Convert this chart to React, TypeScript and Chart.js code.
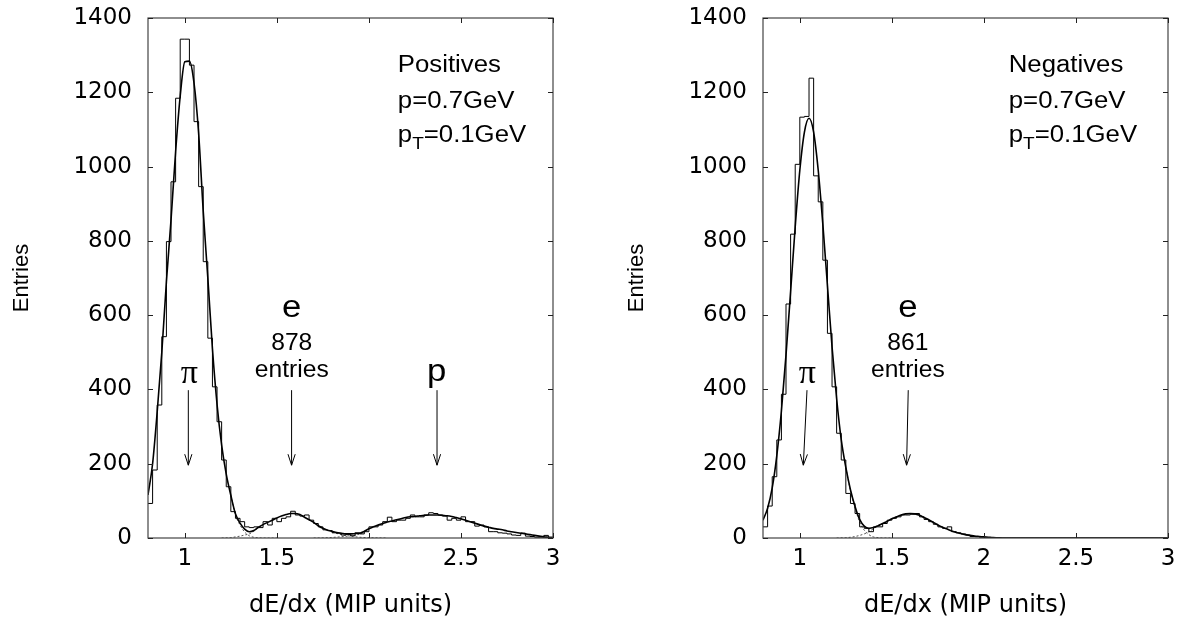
import React, { useEffect, useRef } from "react";
import { Chart, registerables } from "chart.js";

Chart.register(...registerables);

// ---------- data ----------
const BIN_START = 0.8;
const BIN_WIDTH = 0.025;
const X_MIN = 0.8;
const X_MAX = 3.0;
const Y_MIN = 0;
const Y_MAX = 1400;
const xTickValues = [1, 1.5, 2, 2.5, 3];
const yTickValues = [0, 200, 400, 600, 800, 1000, 1200, 1400];

// histogram bin contents (88 bins of 0.025 from 0.8 to 3.0)
const positivesHist = [
  93, 183, 358, 542, 798, 959, 1184, 1343, 1343, 1273,
  1121, 946, 744, 538, 407, 313, 210, 138, 71, 53,
  44, 30, 28, 30, 28, 44, 35, 53, 44, 53,
  57, 72, 62, 59, 62, 48, 39, 30, 22, 20,
  14, 13, 8, 10, 6, 14, 11, 17, 30, 30,
  35, 44, 56, 44, 48, 48, 53, 62, 57, 57,
  62, 68, 66, 62, 59, 48, 53, 48, 57, 44,
  44, 32, 35, 30, 17, 17, 14, 13, 11, 8,
  7, 13, 5, 4, 2, 0.5, 7, 2,
];
const negativesHist = [
  30, 86, 165, 264, 387, 630, 818, 1006, 1133, 1135,
  1238, 975, 905, 748, 551, 407, 282, 210, 120, 93,
  66, 30, 26, 17, 30, 30, 39, 48, 53, 57,
  62, 62, 64, 66, 57, 50, 44, 37, 30, 26,
  30, 17, 14, 11, 8, 4, 4, 2, 1, 0.5,
  0, 0, 0, 0, 0, 0, 0, 0, 0, 0,
  0, 0, 0, 0, 0, 0, 0, 0, 0, 0,
  0, 0, 0, 0, 0, 0, 0, 0, 0, 0,
  0, 0, 0, 0, 0, 0, 0, 0,
];

// total fit, read at 0.8, 0.825, ... 3.0 (89 points)
const positivesFit = [
  116, 200, 340, 500, 690, 856, 1040, 1190, 1282, 1284,
  1225, 1090, 880, 700, 510, 360, 250, 172, 115, 65,
  40, 24, 17, 20, 29, 36, 42, 48, 54, 59,
  63, 66, 66, 63, 56, 49, 42, 33, 26, 21,
  18, 15, 13, 11, 11, 12, 13, 18, 25, 30,
  35, 39, 43, 46, 49, 52, 55, 57, 58, 60,
  61, 62, 62, 62, 61, 60, 58, 55, 52, 48,
  44, 40, 36, 32, 29, 26, 24, 22, 19, 17,
  15, 13, 11, 9, 7, 5, 3, 2, 1,
];
const negativesFit = [
  48, 80, 135, 222, 342, 493, 664, 838, 990, 1093,
  1130, 1093, 990, 845, 680, 515, 375, 265, 190, 130,
  85, 50, 32, 26, 28, 33, 39, 45, 52, 57,
  62, 65, 66, 65, 61, 55, 49, 42, 35, 29,
  24, 19, 15, 12, 9, 7, 5, 4, 3, 2,
  1, 0.5, 0, 0, 0, 0, 0, 0, 0, 0,
  0, 0, 0, 0, 0, 0, 0, 0, 0, 0,
  0, 0, 0, 0, 0, 0, 0, 0, 0, 0,
  0, 0, 0, 0, 0, 0, 0, 0, 0,
];

// individual fit components (dotted), near the overlaps
const posPionTailX = [1.25, 1.275, 1.3, 1.325, 1.35, 1.375, 1.4, 1.425, 1.45, 1.5];
const posPionTail = [114, 62, 35, 16, 6, 2, 0.5, 0, 0, 0];
const posEHeadX = [1.2, 1.25, 1.275, 1.3, 1.325, 1.35, 1.375, 1.4, 1.425];
const posEHead = [0, 1, 3, 5, 8, 11, 18, 28, 35];
const posETailX = [1.8, 1.85, 1.9, 1.95, 2.0, 2.05, 2.1];
const posETail = [16, 9, 5, 2, 1, 0.3, 0];
const posPHeadX = [1.7, 1.75, 1.8, 1.85, 1.9, 1.95, 2.0];
const posPHead = [0, 0.5, 1.5, 3.5, 6, 11, 24];

const negPionTailX = [1.25, 1.275, 1.3, 1.325, 1.35, 1.375, 1.4, 1.425, 1.45, 1.5];
const negPionTail = [189, 128, 81, 43, 21, 9, 3, 1, 0, 0];
const negEHeadX = [1.2, 1.25, 1.275, 1.3, 1.325, 1.35, 1.375, 1.4, 1.425];
const negEHead = [0, 1, 2, 4, 7, 11, 17, 25, 32];

// ---------- helpers ----------
type Pt = { x: number; y: number };

function histPoints(values: number[]): Pt[] {
  const pts = values.map((v, k) => ({ x: BIN_START + k * BIN_WIDTH, y: v }));
  pts.push({ x: BIN_START + values.length * BIN_WIDTH, y: 0 });
  return pts;
}
function gridPoints(values: number[]): Pt[] {
  return values.map((v, k) => ({ x: BIN_START + k * BIN_WIDTH, y: v }));
}
function curvePoints(xs: number[], ys: number[]): Pt[] {
  return ys.map((y, i) => ({ x: xs[i], y }));
}

const SANS = '"Liberation Sans", Arial, sans-serif';
const SERIF = '"Liberation Serif", "Times New Roman", serif';
const TICK_FONT = "DejaVu Sans";

type Part = { t: string; size: number; dy?: number };

function drawParts(
  ctx: CanvasRenderingContext2D,
  parts: Part[],
  x: number,
  y: number,
  sx: number,
  align: "left" | "center",
  family = SANS
) {
  let total = 0;
  for (const p of parts) {
    ctx.font = `${p.size}px ${family}`;
    total += ctx.measureText(p.t).width * sx;
  }
  let cx = align === "center" ? x - total / 2 : x;
  for (const p of parts) {
    ctx.save();
    ctx.font = `${p.size}px ${family}`;
    ctx.textAlign = "left";
    ctx.textBaseline = "alphabetic";
    ctx.fillStyle = "#000";
    const w = ctx.measureText(p.t).width * sx;
    ctx.translate(cx, y + (p.dy || 0));
    ctx.scale(sx, 1);
    ctx.fillText(p.t, 0, 0);
    ctx.restore();
    cx += w;
  }
}

function drawArrow(ctx: CanvasRenderingContext2D, x1: number, y1: number, x2: number, y2: number) {
  ctx.save();
  ctx.strokeStyle = "#000";
  ctx.lineWidth = 1;
  ctx.beginPath();
  ctx.moveTo(x1, y1);
  ctx.lineTo(x2, y2);
  const ang = Math.atan2(y2 - y1, x2 - x1);
  const L = 11;
  const W = 3.6;
  const bx = x2 - L * Math.cos(ang);
  const by = y2 - L * Math.sin(ang);
  const nx = -Math.sin(ang);
  const ny = Math.cos(ang);
  ctx.moveTo(bx + nx * W, by + ny * W);
  ctx.lineTo(x2, y2);
  ctx.lineTo(bx - nx * W, by - ny * W);
  ctx.stroke();
  ctx.restore();
}

type Label = { parts: Part[]; x: number; y: number; align: "left" | "center"; sx: number; family?: string };
type Arrow = { x1: number; y1: number; x2: number; y2: number };

type Panel = {
  left: number;
  width: number;
  hist: number[];
  fit: number[];
  comps: Pt[][];
  labels: Label[];
  arrows: Arrow[];
};

const ARROW_TOP = 398;
const ARROW_TIP = 196;

function cornerLabels(title: string, x: number): Label[] {
  return [
    { parts: [{ t: title, size: 23 }], x, y: 1255, align: "left", sx: 1.12 },
    { parts: [{ t: "p=0.7GeV", size: 23 }], x, y: 1157, align: "left", sx: 1.12 },
    {
      parts: [
        { t: "p", size: 23 },
        { t: "T", size: 17, dy: 7 },
        { t: "=0.1GeV", size: 23 },
      ],
      x,
      y: 1067,
      align: "left",
      sx: 1.12,
    },
  ];
}

const positivesPanel: Panel = {
  left: 0,
  width: 615,
  hist: positivesHist,
  fit: positivesFit,
  comps: [
    curvePoints(posPionTailX, posPionTail),
    curvePoints(posEHeadX, posEHead),
    curvePoints(posETailX, posETail),
    curvePoints(posPHeadX, posPHead),
  ],
  labels: [
    ...cornerLabels("Positives", 2.157),
    { parts: [{ t: "π", size: 34 }], x: 1.024, y: 417, align: "center", sx: 1, family: SERIF },
    { parts: [{ t: "e", size: 31 }], x: 1.581, y: 595, align: "center", sx: 1.12 },
    { parts: [{ t: "878", size: 23 }], x: 1.581, y: 506, align: "center", sx: 1.07 },
    { parts: [{ t: "entries", size: 23 }], x: 1.581, y: 433, align: "center", sx: 1.07 },
    { parts: [{ t: "p", size: 31 }], x: 2.368, y: 422, align: "center", sx: 1.12 },
  ],
  arrows: [
    { x1: 1.019, y1: ARROW_TOP, x2: 1.019, y2: ARROW_TIP },
    { x1: 1.58, y1: ARROW_TOP, x2: 1.58, y2: ARROW_TIP },
    { x1: 2.37, y1: ARROW_TOP, x2: 2.37, y2: ARROW_TIP },
  ],
};

const negativesPanel: Panel = {
  left: 615,
  width: 569,
  hist: negativesHist,
  fit: negativesFit,
  comps: [curvePoints(negPionTailX, negPionTail), curvePoints(negEHeadX, negEHead)],
  labels: [
    ...cornerLabels("Negatives", 2.135),
    { parts: [{ t: "π", size: 34 }], x: 1.041, y: 417, align: "center", sx: 1, family: SERIF },
    { parts: [{ t: "e", size: 31 }], x: 1.587, y: 595, align: "center", sx: 1.12 },
    { parts: [{ t: "861", size: 23 }], x: 1.587, y: 506, align: "center", sx: 1.07 },
    { parts: [{ t: "entries", size: 23 }], x: 1.587, y: 433, align: "center", sx: 1.07 },
  ],
  arrows: [
    { x1: 1.039, y1: ARROW_TOP, x2: 1.019, y2: ARROW_TIP },
    { x1: 1.589, y1: ARROW_TOP, x2: 1.58, y2: ARROW_TIP },
  ],
};

const PLOT_LEFT = 148;
const PLOT_RIGHT = 553;
const PLOT_TOP = 18;
const PLOT_BOTTOM = 538;
const H = 622;

function PanelChart({ panel }: { panel: Panel }) {
  const ref = useRef<HTMLCanvasElement | null>(null);

  useEffect(() => {
    if (!ref.current) return;

    const framePlugin = {
      id: "frameAndNotes",
      afterDatasetsDraw(chart: any) {
        const ctx: CanvasRenderingContext2D = chart.ctx;
        const xs = chart.scales.x;
        const ys = chart.scales.y;
        const a = chart.chartArea;
        ctx.save();
        // box
        ctx.strokeStyle = "#444";
        ctx.lineWidth = 1.2;
        ctx.strokeRect(a.left, a.top, a.right - a.left, a.bottom - a.top);
        // inward ticks on all four sides
        ctx.strokeStyle = "#222";
        ctx.lineWidth = 1;
        ctx.beginPath();
        const TL = 5;
        for (const v of xTickValues) {
          const px = Math.round(xs.getPixelForValue(v)) + 0.5;
          ctx.moveTo(px, a.bottom);
          ctx.lineTo(px, a.bottom - TL);
          ctx.moveTo(px, a.top);
          ctx.lineTo(px, a.top + TL);
        }
        for (const v of yTickValues) {
          const py = Math.round(ys.getPixelForValue(v)) + 0.5;
          ctx.moveTo(a.left, py);
          ctx.lineTo(a.left + TL, py);
          ctx.moveTo(a.right, py);
          ctx.lineTo(a.right - TL, py);
        }
        ctx.stroke();
        ctx.restore();

        for (const ar of panel.arrows) {
          drawArrow(
            ctx,
            xs.getPixelForValue(ar.x1),
            ys.getPixelForValue(ar.y1),
            xs.getPixelForValue(ar.x2),
            ys.getPixelForValue(ar.y2)
          );
        }
        for (const lb of panel.labels) {
          drawParts(
            ctx,
            lb.parts,
            xs.getPixelForValue(lb.x),
            ys.getPixelForValue(lb.y),
            lb.sx,
            lb.align,
            lb.family || SANS
          );
        }
      },
    };

    const datasets: any[] = [
      {
        data: histPoints(panel.hist),
        stepped: "before",
        borderColor: "#000",
        borderWidth: 1,
        pointRadius: 0,
        fill: false,
      },
      {
        data: gridPoints(panel.fit),
        borderColor: "#000",
        borderWidth: 1.6,
        pointRadius: 0,
        tension: 0.4,
        cubicInterpolationMode: "monotone",
        fill: false,
      },
      ...panel.comps.map((c) => ({
        data: c,
        borderColor: "#555",
        borderWidth: 1,
        borderDash: [2, 2],
        pointRadius: 0,
        cubicInterpolationMode: "monotone",
        fill: false,
      })),
    ];

    const chart = new Chart(ref.current, {
      type: "line",
      data: { datasets },
      plugins: [framePlugin],
      options: {
        responsive: false,
        animation: false,
        events: [],
        devicePixelRatio: 1,
        layout: {
          padding: { left: 0, top: PLOT_TOP, right: panel.width - PLOT_RIGHT, bottom: 0 },
        },
        plugins: { legend: { display: false }, tooltip: { enabled: false } },
        scales: {
          x: {
            type: "linear",
            min: X_MIN,
            max: X_MAX,
            afterBuildTicks: (s: any) => {
              s.ticks = xTickValues.map((v) => ({ value: v }));
            },
            afterFit: (s: any) => {
              s.height = H - PLOT_BOTTOM;
              s.paddingLeft = 0;
              s.paddingRight = 0;
            },
            grid: { display: false, drawTicks: false },
            border: { display: false },
            ticks: {
              color: "#000",
              font: { family: TICK_FONT, size: 23 },
              padding: 7,
              maxRotation: 0,
              autoSkip: false,
              callback: (v: any) => String(v),
            },
            title: {
              display: true,
              text: "dE/dx (MIP units)",
              color: "#000",
              font: { family: TICK_FONT, size: 24 },
              padding: { top: 0, bottom: 2 },
            },
          },
          y: {
            type: "linear",
            min: Y_MIN,
            max: Y_MAX,
            afterBuildTicks: (s: any) => {
              s.ticks = yTickValues.map((v) => ({ value: v }));
            },
            afterFit: (s: any) => {
              s.width = PLOT_LEFT;
              s.paddingTop = 0;
              s.paddingBottom = 0;
            },
            grid: { display: false, drawTicks: false },
            border: { display: false },
            ticks: {
              color: "#000",
              font: { family: TICK_FONT, size: 23 },
              padding: 16,
              autoSkip: false,
              callback: (v: any) => String(v),
            },
            title: {
              display: true,
              text: "Entries",
              color: "#000",
              font: { family: "Liberation Sans", size: 22 },
              padding: { top: 9, bottom: 0 },
            },
          },
        },
      } as any,
    });
    return () => chart.destroy();
  }, [panel]);

  return (
    <canvas
      ref={ref}
      width={panel.width}
      height={H}
      style={{ position: "absolute", left: panel.left, top: 0, width: panel.width, height: H, display: "block" }}
    />
  );
}

export default function App() {
  return (
    <div style={{ position: "absolute", left: 0, top: 0, width: 1184, height: 622, background: "#fff" }}>
      <PanelChart panel={positivesPanel} />
      <PanelChart panel={negativesPanel} />
    </div>
  );
}
